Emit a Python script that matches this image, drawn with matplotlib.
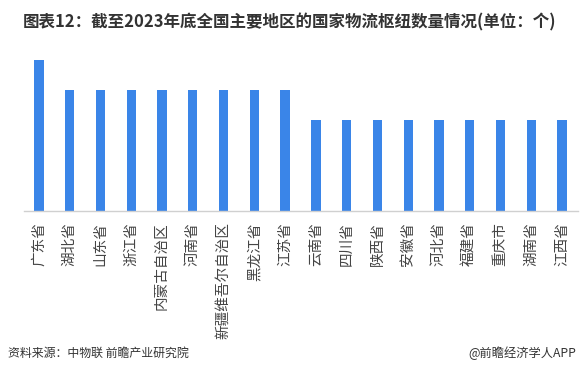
import matplotlib.pyplot as plt

plt.rcParams['font.family'] = ['Noto Sans CJK SC', 'DejaVu Sans']

regions = ['广东省', '湖北省', '山东省', '浙江省', '内蒙古自治区', '河南省',
           '新疆维吾尔自治区', '黑龙江省', '江苏省', '云南省', '四川省', '陕西省',
           '安徽省', '河北省', '福建省', '重庆市', '湖南省', '江西省']
counts = [5, 4, 4, 4, 4, 4, 4, 4, 4, 3, 3, 3, 3, 3, 3, 3, 3, 3]

W, H = 581, 375
fig = plt.figure(figsize=(W / 100, H / 100), dpi=100)
ax = fig.add_axes([23.5 / W, (H - 211) / H, 554 / W, 151 / H])

x = list(range(len(regions)))
ax.bar(x, counts, width=0.3, color='#3a85e8', zorder=2)
ax.set_xlim(-0.5, len(regions) - 0.5)
ax.set_ylim(0, 5)

ax.set_xticks(x)
ax.set_xticklabels(regions, rotation=90, fontsize=10.5, color='#444444')
ax.tick_params(axis='x', length=0, pad=8)
ax.set_yticks([])
for s in ['top', 'right', 'left']:
    ax.spines[s].set_visible(False)
ax.spines['bottom'].set_color('#d0d0d0')
ax.spines['bottom'].set_linewidth(1)

fig.text(23 / W, 1 - 22 / H, '图表12：截至2023年底全国主要地区的国家物流枢纽数量情况(单位：个)',
         fontsize=11.9, fontweight='bold', color='#333333', ha='left', va='center')
fig.text(8 / W, 1 - 353 / H, '资料来源：中物联 前瞻产业研究院',
         fontsize=8.6, color='#333333', ha='left', va='center')
fig.text(576 / W, 1 - 353 / H, '@前瞻经济学人APP',
         fontsize=8.8, color='#333333', ha='right', va='center')

fig.savefig('out.png', dpi=100)
